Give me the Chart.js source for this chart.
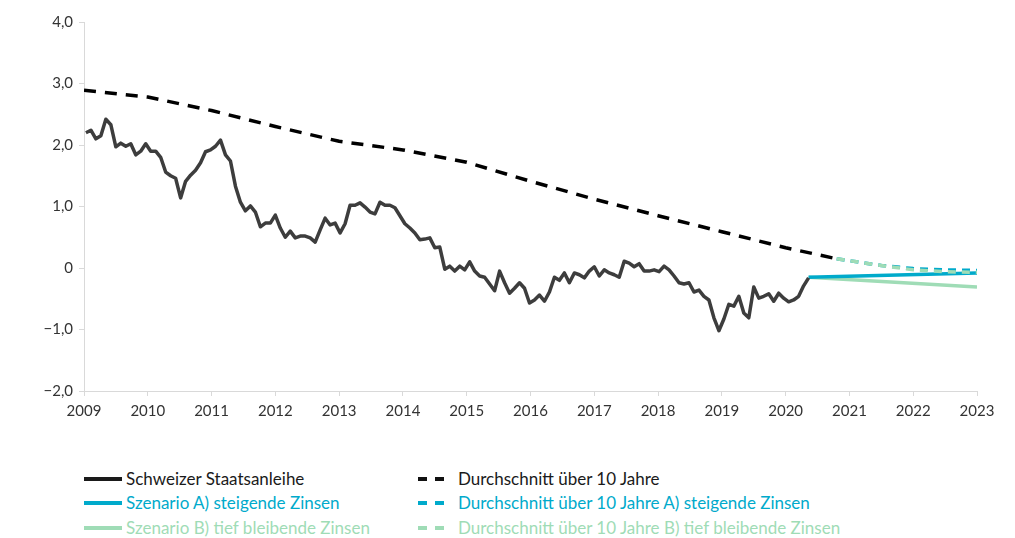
<!DOCTYPE html>
<html>
<head>
<meta charset="utf-8">
<script src="https://cdn.jsdelivr.net/npm/chart.js@4.4.1/dist/chart.umd.min.js"></script>
<style>
  html, body { margin: 0; padding: 0; background: #ffffff; }
  body { width: 1015px; height: 538px; position: relative; overflow: hidden; font-family: "Lato", "Open Sans", sans-serif; }
  #wrap { position: absolute; left: 0; top: 0; width: 1015px; height: 440px; }
  .legend { position: absolute; font-size: 17px; line-height: 20px; white-space: nowrap; }
  .legend .sw { position: absolute; top: 8px; height: 4px; }
  .legend .dash { position: absolute; top: 8px; height: 4px; width: 9px; }
</style>
</head>
<body>
<div id="wrap"><canvas id="c" width="1015" height="440"></canvas></div>
<div id="legend"></div>
<script>
// ---- data ----
const histStart = 2009.03;
const histEnd = 2020.36;
const staatsanleihe = [
  2.20, 2.24, 2.10, 2.15, 2.42, 2.33, 1.97, 2.03, 1.98, 2.02,
  1.84, 1.90, 2.02, 1.90, 1.90, 1.80, 1.56, 1.50, 1.46, 1.14,
  1.41, 1.51, 1.59, 1.71, 1.89, 1.92, 1.98, 2.08, 1.84, 1.74,
  1.33, 1.07, 0.93, 1.01, 0.91, 0.67, 0.73, 0.73, 0.86, 0.65,
  0.50, 0.60, 0.49, 0.52, 0.52, 0.49, 0.42, 0.62, 0.81, 0.70,
  0.73, 0.57, 0.72, 1.02, 1.02, 1.06, 0.99, 0.91, 0.88, 1.07,
  1.02, 1.02, 0.98, 0.85, 0.72, 0.65, 0.57, 0.46, 0.47, 0.49,
  0.33, 0.34, -0.02, 0.03, -0.05, 0.03, -0.03, 0.10, -0.05, -0.13,
  -0.15, -0.26, -0.37, -0.05, -0.24, -0.41, -0.33, -0.24, -0.33, -0.57,
  -0.52, -0.44, -0.54, -0.39, -0.15, -0.20, -0.08, -0.24, -0.08, -0.11,
  -0.16, -0.05, 0.02, -0.13, -0.03, -0.08, -0.11, -0.15, 0.11, 0.08,
  0.02, 0.07, -0.05, -0.05, -0.03, -0.06, 0.03, -0.03, -0.13, -0.24,
  -0.26, -0.24, -0.39, -0.36, -0.46, -0.52, -0.81, -1.02, -0.83, -0.59,
  -0.62, -0.46, -0.73, -0.81, -0.31, -0.49, -0.46, -0.42, -0.54, -0.41,
  -0.49, -0.55, -0.52, -0.46, -0.29, -0.16
];
const avgYears  = [2009, 2010, 2011, 2012, 2013, 2014, 2015, 2016, 2017, 2018, 2019, 2020, 2020.8];
const avgValues = [2.89, 2.78, 2.56, 2.30, 2.06, 1.92, 1.72, 1.41, 1.12, 0.85, 0.59, 0.33, 0.15];
const scenYears = [2020.36, 2023];
const scenA = [-0.15, -0.08];
const scenB = [-0.15, -0.31];
const projYears = [2020.8, 2021.5, 2022, 2022.5, 2023];
const projA = [0.15, 0.04, -0.01, -0.03, -0.04];
const projB = [0.15, 0.04, -0.03, -0.06, -0.07];
const yTicks = [-2, -1, 0, 1, 2, 3, 4];
const xTicks = [2009, 2010, 2011, 2012, 2013, 2014, 2015, 2016, 2017, 2018, 2019, 2020, 2021, 2022, 2023];

const legendItems = [
  { label: "Schweizer Staatsanleihe", color: "#1a1a1a", dashed: false },
  { label: "Durchschnitt über 10 Jahre", color: "#111111", dashed: true },
  { label: "Szenario A) steigende Zinsen", color: "#00aacb", dashed: false },
  { label: "Durchschnitt über 10 Jahre A) steigende Zinsen", color: "#00aacb", dashed: true },
  { label: "Szenario B) tief bleibende Zinsen", color: "#9fdcb6", dashed: false },
  { label: "Durchschnitt über 10 Jahre B) tief bleibende Zinsen", color: "#9fdcb6", dashed: true }
];

// ---- build ----
const step = (histEnd - histStart) / (staatsanleihe.length - 1);
const histPts = staatsanleihe.map((v, i) => ({ x: histStart + i * step, y: v }));
const zip = (xs, ys) => xs.map((x, i) => ({ x: x, y: ys[i] }));

const COL_MAIN = "#3d3d3d", COL_A = "#00aacb", COL_B = "#9fdcb6";

// first dataset is drawn on top
new Chart(document.getElementById("c"), {
  type: "line",
  data: {
    datasets: [
      { label: "Schweizer Staatsanleihe", data: histPts, borderColor: COL_MAIN, borderWidth: 3.5 },
      { label: "Durchschnitt über 10 Jahre", data: zip(avgYears, avgValues), borderColor: "#000000", borderWidth: 3.5, borderDash: [12, 9] },
      { label: "Durchschnitt über 10 Jahre B) tief bleibende Zinsen", data: zip(projYears, projB), borderColor: COL_B, borderWidth: 3.5, borderDash: [8, 6] },
      { label: "Durchschnitt über 10 Jahre A) steigende Zinsen", data: zip(projYears, projA), borderColor: COL_A, borderWidth: 3.5, borderDash: [8, 6] },
      { label: "Szenario A) steigende Zinsen", data: zip(scenYears, scenA), borderColor: COL_A, borderWidth: 3.5 },
      { label: "Szenario B) tief bleibende Zinsen", data: zip(scenYears, scenB), borderColor: COL_B, borderWidth: 3.5 }
    ]
  },
  options: {
    responsive: false,
    animation: false,
    elements: { point: { radius: 0, hoverRadius: 0 }, line: { tension: 0, borderCapStyle: "butt", borderJoinStyle: "round" } },
    layout: { padding: { top: 22, right: 38, left: 0, bottom: 0 } },
    plugins: { legend: { display: false }, tooltip: { enabled: false } },
    scales: {
      x: {
        type: "linear", min: 2009, max: 2023,
        afterBuildTicks: (s) => { s.ticks = xTicks.map(v => ({ value: v })); },
        afterFit: (s) => { s.height = 49; },
        ticks: { color: "#333333", font: { family: "Lato", size: 15 }, padding: 6, maxRotation: 0, autoSkip: false, callback: (v) => String(v) },
        grid: { drawOnChartArea: false, drawTicks: true, tickLength: 5, color: "#d9d9d9" },
        border: { color: "#d9d9d9", width: 1 }
      },
      y: {
        type: "linear", min: -2, max: 4,
        afterBuildTicks: (s) => { s.ticks = yTicks.map(v => ({ value: v })); },
        afterFit: (s) => { s.width = 84; },
        ticks: {
          color: "#333333", font: { family: "Lato", size: 15 }, padding: 6,
          callback: (v) => v === 0 ? "0" : (v < 0 ? "\u2212" : "") + Math.abs(v).toFixed(1).replace(".", ",")
        },
        grid: { drawOnChartArea: false, drawTicks: true, tickLength: 5, color: "#d9d9d9" },
        border: { color: "#d9d9d9", width: 1 }
      }
    }
  }
});

// ---- legend ----
const lg = document.getElementById("legend");
const colX = [84, 418];
const rowY = [469, 493, 518];
legendItems.forEach((it, i) => {
  const col = i % 2, row = Math.floor(i / 2);
  const d = document.createElement("div");
  d.className = "legend";
  d.style.left = colX[col] + "px";
  d.style.top = rowY[row] + "px";
  d.style.color = it.color === "#1a1a1a" || it.color === "#111111" ? "#1a1a1a" : it.color;
  let html = "";
  if (!it.dashed) {
    html += '<span class="sw" style="left:0;width:38px;background:' + it.color + '"></span>';
    html += '<span style="margin-left:42px">' + it.label + '</span>';
  } else {
    html += '<span class="dash" style="left:0;background:' + it.color + '"></span>';
    html += '<span class="dash" style="left:17px;background:' + it.color + '"></span>';
    html += '<span style="margin-left:40px">' + it.label + '</span>';
  }
  d.innerHTML = html;
  lg.appendChild(d);
});
</script>
</body>
</html>
